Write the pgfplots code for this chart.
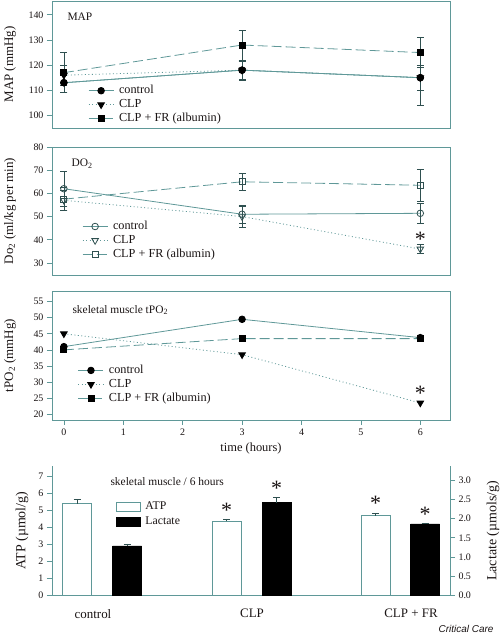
\documentclass[border=0pt]{standalone}
\usepackage{fontspec}
\setmainfont{Liberation Serif}
\newfontfamily\sansfam{Liberation Sans}
\usepackage{pgfplots}
\pgfplotsset{compat=1.18}
\definecolor{tealc}{HTML}{5F9898}
\definecolor{errc}{HTML}{2F5050}
\definecolor{textc}{HTML}{1A1414}
\pgfplotsset{
  base/.style={
    scale only axis, width=398bp,
    axis line style={tealc, line width=0.8pt},
    every tick/.style={tealc, line width=0.7pt},
    tick align=outside, major tick length=5bp,
    tick label style={font=\fontsize{10}{12}\selectfont, text=textc},
    label style={font=\fontsize{13}{15}\selectfont, text=textc},
    /pgf/number format/assume math mode=true,
    xtick pos=bottom, ytick pos=left,
    ylabel style={at={(rel axis cs:0,0.5)}, anchor=center, yshift=42bp},
  },
  lineax/.style={base, xmin=-0.2, xmax=6.5, xtick={0,...,6},
    legend style={draw=none, fill=none, font=\fontsize{12.3}{13}\selectfont, text=textc,
      cells={anchor=west}, row sep=0pt, inner sep=0pt, column sep=3bp,
      nodes={inner sep=2bp, text height=8bp, text depth=2bp}},
    legend image code/.code={\draw[mark repeat=2,mark phase=2,##1] plot coordinates {(0bp,0bp) (12.5bp,0bp) (25bp,0bp)};},
  },
  eb/.style={error bars/y dir=both, error bars/y explicit,
    error bars/error bar style={errc, line width=0.6pt, solid},
    error bars/error mark options={rotate=90, errc, mark size=3.5bp, line width=0.6pt}},
  ctrlF/.style={tealc, line width=0.8pt, solid, mark=*, mark options={solid, fill=black, draw=black}, mark size=3.3bp},
  clpF/.style={tealc, line width=0.8pt, dash pattern=on 1bp off 2.5bp, mark=triangle*, mark options={solid, fill=black, draw=black, rotate=180}, mark size=3.8bp},
  frF/.style={tealc, line width=0.8pt, dash pattern=on 10bp off 4bp, mark=square*, mark options={solid, fill=black, draw=black}, mark size=3bp},
  ctrlO/.style={tealc, line width=0.8pt, solid, mark=o, mark options={solid, fill=white, draw=errc}, mark size=3.3bp},
  clpO/.style={tealc, line width=0.8pt, dash pattern=on 1bp off 2.5bp, mark=triangle, mark options={solid, fill=white, draw=errc, rotate=180}, mark size=3.8bp},
  frO/.style={tealc, line width=0.8pt, dash pattern=on 10bp off 4bp, mark=square, mark options={solid, fill=white, draw=errc}, mark size=3bp},
}
\begin{document}
\begin{tikzpicture}
\useasboundingbox (0bp,0bp) rectangle (500bp,634bp);

% ---------- Panel 1: MAP ----------
\begin{axis}[lineax, at={(52bp,506bp)}, anchor=south west, height=127bp,
  ymin=95, ymax=145.5, ytick={100,110,...,140}, xtick=\empty,
  ylabel={MAP (mmHg)},
  legend style={at={(0.0905,0.35)}, anchor=north west}]
\addplot[ctrlF, eb] coordinates {(0,113) +- (0,4) (3,118) +- (0,4) (6,115) +- (0,5)};
\addlegendentry{control}
\addplot[clpF, eb] coordinates {(0,116) +- (0,4) (3,118) +- (0,3.5) (6,115) +- (0,11)};
\addlegendentry{CLP}
\addplot[frF, eb] coordinates {(0,117) +- (0,8) (3,128) +- (0,6) (6,125) +- (0,6)};
\addlegendentry{CLP + FR (albumin)}
\addplot[ctrlF, forget plot] coordinates {(0,113) (3,118) (6,115)};
\end{axis}
\node[anchor=west, font=\fontsize{11.5}{13}\selectfont, text=textc] at (64bp,617bp) {MAP};

% ---------- Panel 2: DO2 ----------
\begin{axis}[lineax, at={(52bp,359bp)}, anchor=south west, height=128bp,
  ymin=24.8, ymax=80, ytick={30,40,...,80}, xtick=\empty,
  ylabel={Do\textsubscript{2} (ml/kg per min)},
  legend style={at={(0.0754,0.435)}, anchor=north west}]
\addplot[ctrlO, eb] coordinates {(0,62) +- (0,7.4) (3,51) +- (0,4) (6,51.4) +- (0,4.5)};
\addlegendentry{control}
\addplot[clpO, eb] coordinates {(0,57) +- (0,4.5) (3,50) +- (0,4.5) (6,36) +- (0,2)};
\addlegendentry{CLP}
\addplot[frO, eb] coordinates {(0,57.5) +- (0,5) (3,65) +- (0,3.5) (6,63.5) +- (0,7)};
\addlegendentry{CLP + FR (albumin)}
\node[font=\fontsize{22}{22}\selectfont, text=textc] at (axis cs:6,40.3) {*};
\end{axis}
\node[anchor=west, font=\fontsize{11.5}{13}\selectfont, text=textc] at (68bp,470bp) {DO\textsubscript{2}};

% ---------- Panel 3: tPO2 ----------
\begin{axis}[lineax, at={(52bp,214bp)}, anchor=south west, height=129bp,
  ymin=18.2, ymax=58.3, ytick={20,25,...,55},
  ylabel={tPO\textsubscript{2} (mmHg)},
  xlabel={time (hours)},
  xlabel style={at={(rel axis cs:0.5,0)}, anchor=center, yshift=-29bp, font=\fontsize{12.5}{14}\selectfont},
  legend style={at={(0.065,0.44)}, anchor=north west}]
\addplot[ctrlF] coordinates {(0,41) (3,49.5) (6,43.8)};
\addlegendentry{control}
\addplot[clpF] coordinates {(0,45) (3,38.5) (6,23.5)};
\addlegendentry{CLP}
\addplot[frF] coordinates {(0,40) (3,43.5) (6,43.5)};
\addlegendentry{CLP + FR (albumin)}
\node[font=\fontsize{22}{22}\selectfont, text=textc] at (axis cs:6,26.5) {*};
\end{axis}
\node[anchor=west, font=\fontsize{11.5}{13}\selectfont, text=textc] at (69bp,324bp) {skeletal muscle tPO\textsubscript{2}};

% ---------- Panel 4: bars ----------
\begin{axis}[base, at={(52bp,38.3bp)}, anchor=south west, height=129.7bp,
  xmin=0, xmax=398, ymin=0, ymax=7.58, ytick={0,1,...,7},
  axis y line*=left, axis x line*=bottom,
  xtick={41,200,359}, xticklabels={control,CLP,CLP + FR},
  x tick style={draw=none}, major tick length=5bp,
  xticklabel style={font=\fontsize{13}{15}\selectfont, yshift=-5bp},
  ylabel={ATP (\textmu mol/g)},
  ylabel style={yshift=-12bp, font=\fontsize{14}{16}\selectfont},
  legend style={draw=none, fill=none, at={(0.153,0.76)}, anchor=north west,
    font=\fontsize{11.8}{13}\selectfont, text=textc, cells={anchor=west}, row sep=0pt, column sep=2bp,
    nodes={inner sep=2.5bp, text height=8bp, text depth=2bp}},
  legend image code/.code={\draw[#1] (0bp,-4.5bp) rectangle (24bp,4.5bp);},
  ]
\addplot[ybar, bar width=29, bar shift=0pt, fill=white, draw=tealc, line width=0.8pt,
  error bars/y dir=plus, error bars/y explicit,
  error bars/error bar style={errc, line width=0.6pt},
  error bars/error mark options={rotate=90, errc, mark size=3.5bp, line width=0.6pt}]
  coordinates {(25,5.38) +- (0,0.26) (174.5,4.35) +- (0,0.12) (323.5,4.68) +- (0,0.13)};
\addlegendentry{ATP}
\addlegendimage{fill=black, draw=black}
\addlegendentry{Lactate}
\node[font=\fontsize{22}{22}\selectfont, text=textc] at (axis cs:174.5,5.0) {*};
\node[font=\fontsize{22}{22}\selectfont, text=textc] at (axis cs:224.5,6.3) {*};
\node[font=\fontsize{22}{22}\selectfont, text=textc] at (axis cs:323.5,5.38) {*};
\node[font=\fontsize{22}{22}\selectfont, text=textc] at (axis cs:373,4.75) {*};
\end{axis}
\begin{axis}[base, at={(52bp,38.3bp)}, anchor=south west, height=129.7bp,
  xmin=0, xmax=398, ymin=0, ymax=3.36, ytick={0,0.5,...,3.0},
  axis y line*=right, axis x line=none, ytick pos=right,
  yticklabel style={/pgf/number format/fixed, /pgf/number format/fixed zerofill, /pgf/number format/precision=1},
  ylabel={Lactate (\textmu mols/g)},
  ylabel style={at={(rel axis cs:1,0.5)}, anchor=center, yshift=-85bp, font=\fontsize{14}{16}\selectfont},
  ]
\addplot[ybar, bar width=29, bar shift=0pt, fill=black, draw=black,
  error bars/y dir=plus, error bars/y explicit,
  error bars/error bar style={errc, line width=0.6pt},
  error bars/error mark options={rotate=90, errc, mark size=3.5bp, line width=0.6pt}]
  coordinates {(75,1.29) +- (0,0.05) (224.5,2.41) +- (0,0.14) (373,1.86) +- (0,0.025)};
\end{axis}
\node[anchor=west, font=\fontsize{11.5}{13}\selectfont, text=textc] at (107bp,152bp) {skeletal muscle / 6 hours};
\node[anchor=base east, font=\sansfam\itshape\fontsize{10}{12}\selectfont, text=textc] at (497bp,1.5bp) {Critical Care};
\end{tikzpicture}
\end{document}
